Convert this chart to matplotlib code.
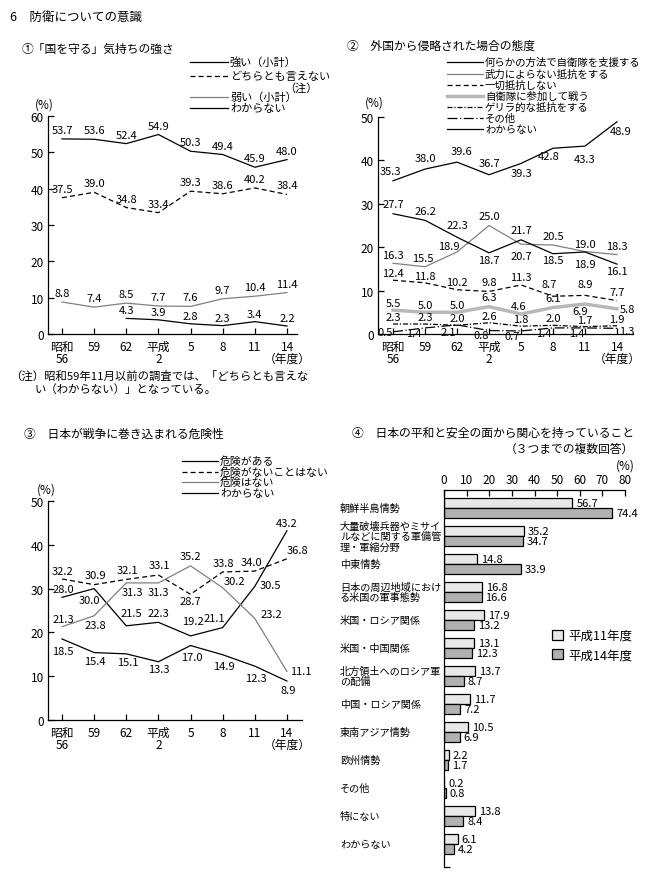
import numpy as np
import matplotlib
matplotlib.use('Agg')
import matplotlib.pyplot as plt
from matplotlib.lines import Line2D
from matplotlib.patches import Patch
from matplotlib.transforms import blended_transform_factory

plt.rcParams['font.family'] = ['Noto Sans CJK JP', 'DejaVu Sans']
plt.rcParams['font.size'] = 8

# ---------------- data ----------------
years = ['昭和\n56', '59', '62', '平成\n2', '5', '8', '11', '14\n（年度）']

# ① 「国を守る」気持ちの強さ
c1_strong = [53.7, 53.6, 52.4, 54.9, 50.3, 49.4, 45.9, 48.0]
c1_neither = [37.5, 39.0, 34.8, 33.4, 39.3, 38.6, 40.2, 38.4]
c1_weak = [8.8, 7.4, 8.5, 7.7, 7.6, 9.7, 10.4, 11.4]
c1_dk = [np.nan, np.nan, 4.3, 3.9, 2.8, 2.3, 3.4, 2.2]
c1_names = ['強い（小計）', 'どちらとも言えない', '弱い（小計）', 'わからない']

# ② 外国から侵略された場合の態度
c2_support = [35.3, 38.0, 39.6, 36.7, 39.3, 42.8, 43.3, 48.9]
c2_nonviolent = [16.3, 15.5, 18.9, 25.0, 20.7, 20.5, 19.0, 18.3]
c2_none = [12.4, 11.8, 10.2, 9.8, 11.3, 8.7, 8.9, 7.7]
c2_join = [5.5, 5.0, 5.0, 6.3, 4.6, 6.1, 6.9, 5.8]
c2_guerrilla = [2.3, 2.3, 2.0, 2.6, 1.8, 2.0, 1.7, 1.9]
c2_other = [0.5, 1.4, 2.1, 0.8, 0.7, 1.4, 1.4, 1.3]
c2_dk = [27.7, 26.2, 22.3, 18.7, 21.7, 18.5, 18.9, 16.1]
c2_names = ['何らかの方法で自衛隊を支援する', '武力によらない抵抗をする', '一切抵抗しない',
            '自衛隊に参加して戦う', 'ゲリラ的な抵抗をする', 'その他', 'わからない']

# ③ 日本が戦争に巻き込まれる危険性
c3_danger = [28.0, 30.0, 21.5, 22.3, 19.2, 21.1, 30.5, 43.2]
c3_maybe = [32.2, 30.9, 32.1, 33.1, 28.7, 33.8, 34.0, 36.8]
c3_nodanger = [21.3, 23.8, 31.3, 31.3, 35.2, 30.2, 23.2, 11.1]
c3_dk = [18.5, 15.4, 15.1, 13.3, 17.0, 14.9, 12.3, 8.9]
c3_names = ['危険がある', '危険がないことはない', '危険はない', 'わからない']

# ④ 日本の平和と安全の面から関心を持っていること
c4_categories = ['朝鮮半島情勢', '大量破壊兵器やミサイ\nルなどに関する軍備管\n理・軍縮分野', '中東情勢',
                 '日本の周辺地域におけ\nる米国の軍事態勢', '米国・ロシア関係', '米国・中国関係',
                 '北方領土へのロシア軍\nの配備', '中国・ロシア関係', '東南アジア情勢', '欧州情勢',
                 'その他', '特にない', 'わからない']
c4_h11 = [56.7, 35.2, 14.8, 16.8, 17.9, 13.1, 13.7, 11.7, 10.5, 2.2, 0.2, 13.8, 6.1]
c4_h14 = [74.4, 34.7, 33.9, 16.6, 13.2, 12.3, 8.7, 7.2, 6.9, 1.7, 0.8, 8.4, 4.2]
c4_series = ['平成11年度', '平成14年度']

# ---------------- styles / label offsets (pixels) ----------------
S_BLACK = dict(color='black', lw=0.9)
S_DASH = dict(color='black', lw=0.9, ls=(0, (4, 2.5)))
S_GRAY = dict(color='#808080', lw=0.9)
S_THICK = dict(color='#b8b8b8', lw=2.5)
S_DDOT = dict(color='black', lw=0.9, ls=(0, (4, 1.5, 1, 1.5)))
S_LDOT = dict(color='black', lw=0.9, ls=(0, (8, 2, 1, 2)))

O_UP = [(0, 9)] * 8
o2_support = [(-3, 10), (0, 11), (5, 11), (0, 12), (0, -10), (-4, -8), (0, -13), (4, -9)]
o2_dk = [(0, 10), (0, 9), (0, 12), (0, -7), (0, 10), (0, -6), (0, -12), (0, -7)]
o2_nonviolent = [(0, 8), (-2, 9), (-8, 6), (0, 9), (0, -12), (0, 9), (0, 8), (0, 9)]
o2_none = [(0, 7), (0, 7), (0, 8), (0, 9), (0, 8), (-4, 12), (0, 11), (0, 9)]
o2_join = [(0, 7), (0, 7), (0, 7), (0, 10), (-2, 8), (0, 10), (-5, -7), (10, 0)]
o2_guerrilla = [(0, 7)] * 8
o2_other = [(-8, 0), (-11, -5), (-9, -7), (-8, -4), (-9, -5), (-9, -5), (-8, -5), (10, -3)]

o3_danger = [(1, 8), (-5, -11), (5, 13), (0, 9), (2, 15), (-8, 10), (16, 1), (0, 8)]
o3_maybe = [(1, 8), (1, 10), (1, 9), (1, 10), (0, -7), (1, 9), (-3, 9), (11, 9)]
o3_nodanger = [(1, 8), (1, -9), (6, -9), (0, -9), (0, 10), (12, 7), (17, 4), (14, 0)]
o3_dk = [(1, -12), (1, -8), (2, -8), (0, -7), (1, -11), (1, -11), (1, -12), (1, -9)]

W, H = 650, 879
fig = plt.figure(figsize=(W / 100, H / 100), dpi=100)

LBL = 8  # data label size


def fx(x):
    return x / W


def fy(y):
    return 1 - y / H


def add_ax(x0, top, x1, bottom):
    return fig.add_axes([x0 / W, 1 - bottom / H, (x1 - x0) / W, (bottom - top) / H])


def setup_line_ax(ax, ymax, xlim):
    ax.set_xlim(*xlim)
    ax.set_ylim(0, ymax)
    ax.spines[['top', 'right']].set_visible(False)
    for s in ax.spines.values():
        s.set_linewidth(0.9)
    ax.set_xticks(range(8))
    ax.set_xticklabels(years, linespacing=0.95)
    ax.set_yticks(range(0, ymax + 1, 10))
    ax.tick_params(direction='in', length=4, width=0.9, labelsize=8.5, pad=3)
    ax.tick_params(axis='x', pad=4)
    ax.patch.set_alpha(0)


def draw_series(ax, vals, style, offsets):
    x = np.arange(len(vals))
    ax.plot(x, vals, **style)
    for i, v in enumerate(vals):
        if np.isnan(v):
            continue
        ax.annotate(f'{v:.1f}', (i, v), xytext=offsets[i], textcoords='offset pixels',
                    ha='center', va='center', fontsize=LBL)


def legend_entry(x0, x1, y, text, style, tx, size=8):
    fig.add_artist(Line2D([fx(x0), fx(x1)], [fy(y), fy(y)], transform=fig.transFigure, **style))
    fig.text(fx(tx), fy(y), text, ha='left', va='center', fontsize=size)


# ---------------- headers ----------------
fig.text(fx(10), fy(17), '6　防衛についての意識', ha='left', va='center', fontsize=9)
fig.text(fx(22), fy(49), '①「国を守る」気持ちの強さ', ha='left', va='center', fontsize=8.5)
fig.text(fx(347), fy(46), '②　外国から侵略された場合の態度', ha='left', va='center', fontsize=8.5)
fig.text(fx(24), fy(434), '③　日本が戦争に巻き込まれる危険性', ha='left', va='center', fontsize=8.5)
fig.text(fx(352), fy(433), '④　日本の平和と安全の面から関心を持っていること', ha='left', va='center', fontsize=8.5)
fig.text(fx(634), fy(449), '（３つまでの複数回答）', ha='right', va='center', fontsize=8.5)

# ---------------- chart 1 ----------------
ax1 = add_ax(48, 117, 297, 335)
setup_line_ax(ax1, 60, (-0.436, 7.31))
draw_series(ax1, c1_strong, S_BLACK, O_UP)
draw_series(ax1, c1_neither, S_DASH, O_UP)
draw_series(ax1, c1_weak, S_GRAY, O_UP)
draw_series(ax1, c1_dk, S_BLACK, [(0, 8)] * 8)
fig.text(fx(44), fy(105), '(%)', ha='center', va='center', fontsize=8.5)
legend_entry(190, 228, 63, c1_names[0], S_BLACK, 230)
legend_entry(190, 228, 77, c1_names[1], S_DASH, 230)
fig.text(fx(318), fy(88), '（注）', ha='right', va='center', fontsize=8)
legend_entry(190, 228, 98, c1_names[2], S_GRAY, 230)
legend_entry(190, 228, 109, c1_names[3], S_BLACK, 230)
fig.text(fx(10), fy(376), '（注）昭和59年11月以前の調査では、「どちらとも言えな', ha='left', va='center', fontsize=8.2)
fig.text(fx(35), fy(389), 'い（わからない）」となっている。', ha='left', va='center', fontsize=8.2)

# ---------------- chart 2 ----------------
ax2 = add_ax(378, 118, 633, 335)
setup_line_ax(ax2, 50, (-0.47, 7.5))
draw_series(ax2, c2_support, S_BLACK, o2_support)
draw_series(ax2, c2_nonviolent, S_GRAY, o2_nonviolent)
draw_series(ax2, c2_none, S_DASH, o2_none)
draw_series(ax2, c2_join, S_THICK, o2_join)
draw_series(ax2, c2_guerrilla, S_DDOT, o2_guerrilla)
draw_series(ax2, c2_other, S_LDOT, o2_other)
draw_series(ax2, c2_dk, S_BLACK, o2_dk)
fig.text(fx(374), fy(103), '(%)', ha='center', va='center', fontsize=8.5)
for (yy, name, st) in zip([63, 74.5, 85.5, 97, 108, 119, 130], c2_names,
                          [S_BLACK, S_GRAY, S_DASH, S_THICK, S_DDOT, S_LDOT, S_BLACK]):
    legend_entry(447, 483, yy, name, st, 485, size=7.5)

# ---------------- chart 3 ----------------
ax3 = add_ax(48, 502, 302, 721)
setup_line_ax(ax3, 50, (-0.436, 7.47))
draw_series(ax3, c3_danger, S_BLACK, o3_danger)
draw_series(ax3, c3_maybe, S_DASH, o3_maybe)
draw_series(ax3, c3_nodanger, S_GRAY, o3_nodanger)
draw_series(ax3, c3_dk, S_BLACK, o3_dk)
fig.text(fx(46), fy(490), '(%)', ha='center', va='center', fontsize=8.5)
for (yy, name, st) in zip([462, 472.5, 483, 493.5], c3_names, [S_BLACK, S_DASH, S_GRAY, S_BLACK]):
    legend_entry(182, 218, yy, name, st, 220, size=7.8)

# ---------------- chart 4 ----------------
ax4 = add_ax(444, 491, 625, 868)
n = len(c4_categories)
yy = np.arange(n)
bh = 0.357
b11 = ax4.barh(yy - bh / 2, c4_h11, height=bh, color='#e8e8e8', edgecolor='black', lw=0.9,
               label=c4_series[0])
b14 = ax4.barh(yy + bh / 2, c4_h14, height=bh, color='#b0b0b0', edgecolor='black', lw=0.9,
               label=c4_series[1])
ax4.set_xlim(0, 80)
ax4.set_ylim(12.82, -0.643)
ax4.xaxis.tick_top()
ax4.set_xticks(range(0, 81, 10))
ax4.spines[['right', 'bottom']].set_visible(False)
for s in ax4.spines.values():
    s.set_linewidth(0.9)
ax4.tick_params(axis='x', direction='in', length=4, width=0.9, labelsize=8.5, pad=3)
ax4.set_yticks([12.82])
ax4.set_yticklabels([''])
ax4.tick_params(axis='y', direction='in', length=4, width=0.9)
ax4.patch.set_alpha(0)
for i in range(n):
    ax4.annotate(f'{c4_h11[i]:.1f}', (c4_h11[i], i - bh / 2), xytext=(4, 0), textcoords='offset pixels',
                 ha='left', va='center', fontsize=LBL)
    ax4.annotate(f'{c4_h14[i]:.1f}', (c4_h14[i], i + bh / 2), xytext=(4, 0), textcoords='offset pixels',
                 ha='left', va='center', fontsize=LBL)
tr = blended_transform_factory(ax4.transAxes, ax4.transData)
for i, lab in enumerate(c4_categories):
    ax4.text(-0.575, i, lab, transform=tr, ha='left', va='center', fontsize=7.3, linespacing=1.05)
fig.text(fx(625), fy(466), '(%)', ha='center', va='center', fontsize=8.5)
ax4.legend(handles=[Patch(facecolor='#e8e8e8', edgecolor='black', lw=0.9),
                    Patch(facecolor='#b0b0b0', edgecolor='black', lw=0.9)],
           labels=c4_series, loc='upper left', bbox_to_anchor=(fx(552), fy(630)),
           bbox_transform=fig.transFigure, frameon=False, fontsize=9,
           handlelength=0.9, handleheight=0.9, handletextpad=0.4, labelspacing=0.5,
           borderaxespad=0, borderpad=0)

fig.savefig('out.png', dpi=100)
